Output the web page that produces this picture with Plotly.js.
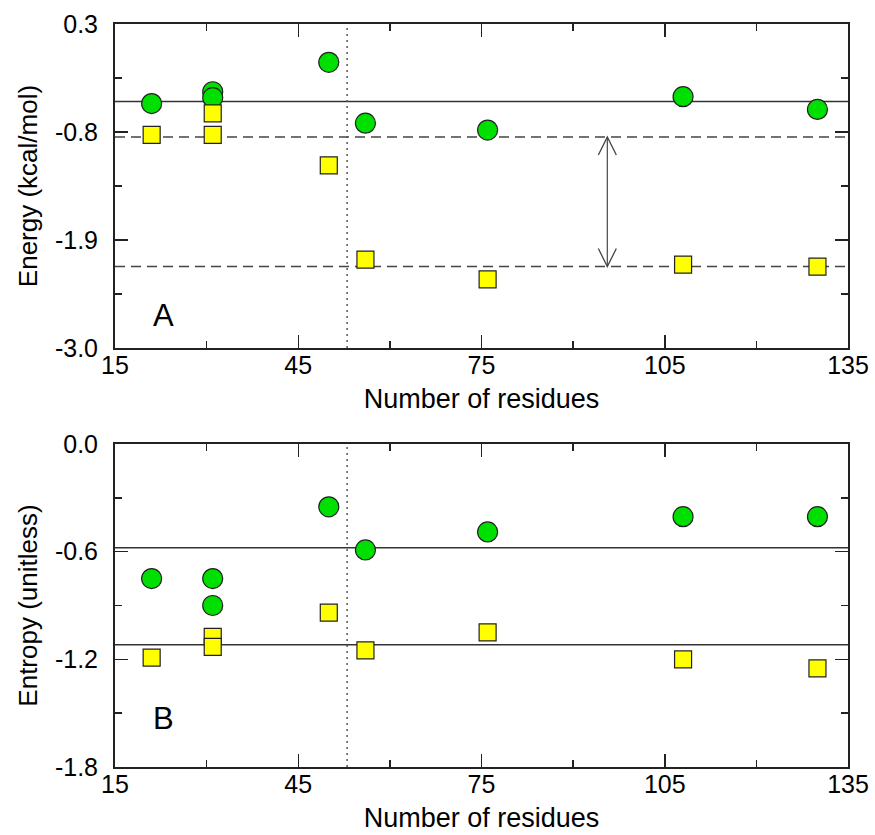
<!DOCTYPE html>
<html><head><meta charset="utf-8">
<script src="https://cdn.plot.ly/plotly-3.0.1.min.js"></script>
<style>html,body{margin:0;padding:0;background:#fff}#chart{width:875px;height:835px}</style>
</head><body><div id="chart"></div>
<script>
// ---- data ----
const residues = [21, 31, 31, 50, 56, 76, 108, 130];
const energyCircles = [-0.51, -0.39, -0.45, -0.09, -0.71, -0.78, -0.44, -0.57];
const energySquares = [-0.83, -0.61, -0.83, -1.14, -2.10, -2.30, -2.15, -2.17];
const entropyCircles = [-0.75, -0.75, -0.90, -0.35, -0.59, -0.49, -0.405, -0.405];
const entropySquares = [-1.19, -1.075, -1.13, -0.94, -1.15, -1.05, -1.20, -1.25];
const energySolidLines = [-0.49];
const energyDashedLines = [-0.85, -2.17];
const entropySolidLines = [-0.578, -1.118];
const cutoffResidues = [53];
const arrowResidue = 95.6;
const xTickVals = [15, 45, 75, 105, 135];
const xTickText = ['15', '45', '75', '105', '135'];
const xMinorTicks = [30, 60, 90, 120];
const energyTickVals = [0.3, -0.8, -1.9, -3.0];
const energyTickText = ['0.3', '-0.8', '-1.9', '-3.0'];
const energyMinorTicks = [-0.25, -1.35, -2.45];
const entropyTickVals = [0.0, -0.6, -1.2, -1.8];
const entropyTickText = ['0.0', '-0.6', '-1.2', '-1.8'];
const entropyMinorTicks = [-0.3, -0.9, -1.5];
const panelLabels = ['A', 'B'];
const panelLabelPos = [[23, -2.67], [23, -1.53]];

// ---- style ----
const FONT = 'Liberation Sans, Arial, Helvetica, sans-serif';
const green = '#00e000', yellow = '#ffff00', edge = '#222';
function circ(y, xa, ya) {
  return {x: residues, y: y, xaxis: xa, yaxis: ya, type: 'scatter', mode: 'markers',
    marker: {symbol: 'circle', size: 20, color: green, line: {color: edge, width: 1.2}}, hoverinfo: 'skip'};
}
function sq(y, xa, ya) {
  return {x: residues, y: y, xaxis: xa, yaxis: ya, type: 'scatter', mode: 'markers',
    marker: {symbol: 'square', size: 17, color: yellow, line: {color: edge, width: 1.2}}, hoverinfo: 'skip'};
}
const data = [
  circ(energyCircles, 'x', 'y'), sq(energySquares, 'x', 'y'),
  circ(entropyCircles, 'x2', 'y2'), sq(entropySquares, 'x2', 'y2')
];

function xaxis(anchor) {
  return {anchor: anchor, domain: [0, 1], range: [15, 135], tickmode: 'array', tickvals: xTickVals, ticktext: xTickText,
    ticks: 'inside', ticklen: 13, tickwidth: 1.5, tickcolor: '#222', mirror: 'ticks', showline: true, linewidth: 2, linecolor: '#222',
    showgrid: false, zeroline: false, ticklabelstandoff: -6,
    minor: {tickmode: 'array', tickvals: xMinorTicks, ticks: 'inside', ticklen: 7, tickwidth: 1.5, tickcolor: '#222', showgrid: false},
    tickfont: {family: FONT, size: 25, color: '#000'},
    title: {text: 'Number of residues', font: {family: FONT, size: 27, color: '#000'}, standoff: 11}};
}
function yaxis(anchor, dom, range, tv, tt, minor, title) {
  return {anchor: anchor, domain: dom, range: range, tickmode: 'array', tickvals: tv, ticktext: tt,
    ticks: 'inside', ticklen: 13, tickwidth: 1.5, tickcolor: '#222', mirror: 'ticks', showline: true, linewidth: 2, linecolor: '#222',
    showgrid: false, zeroline: false, ticklabelstandoff: 10,
    minor: {tickmode: 'array', tickvals: minor, ticks: 'inside', ticklen: 7, tickwidth: 1.5, tickcolor: '#222', showgrid: false},
    tickfont: {family: FONT, size: 25, color: '#000'},
    title: {text: title, font: {family: FONT, size: 26, color: '#000'}, standoff: 10}};
}

const shapes = [];
energySolidLines.forEach(v => shapes.push({type: 'line', xref: 'x domain', yref: 'y', x0: 0, x1: 1, y0: v, y1: v, layer: 'below', line: {color: '#333', width: 1.5}}));
energyDashedLines.forEach(v => shapes.push({type: 'line', xref: 'x domain', yref: 'y', x0: 0, x1: 1, y0: v, y1: v, layer: 'below', line: {color: '#444', width: 1.5, dash: '10px,6px'}}));
entropySolidLines.forEach(v => shapes.push({type: 'line', xref: 'x2 domain', yref: 'y2', x0: 0, x1: 1, y0: v, y1: v, layer: 'below', line: {color: '#333', width: 1.5}}));
cutoffResidues.forEach(v => {
  shapes.push({type: 'line', xref: 'x', yref: 'y domain', x0: v, x1: v, y0: 0, y1: 1, layer: 'below', line: {color: '#555', width: 1.5, dash: '2px,4px'}});
  shapes.push({type: 'line', xref: 'x2', yref: 'y2 domain', x0: v, x1: v, y0: 0, y1: 1, layer: 'below', line: {color: '#555', width: 1.5, dash: '2px,4px'}});
});
// double arrow between the two dashed levels
shapes.push({type: 'line', xref: 'x', yref: 'y', x0: arrowResidue, x1: arrowResidue, y0: energyDashedLines[0], y1: energyDashedLines[1],
  line: {color: '#555', width: 1.3}});
shapes.push({type: 'path', xref: 'x', yref: 'y', xsizemode: 'pixel', ysizemode: 'pixel', xanchor: arrowResidue, yanchor: energyDashedLines[0],
  path: 'M-9,-18L0,0L9,-18', line: {color: '#444', width: 1.3}});
shapes.push({type: 'path', xref: 'x', yref: 'y', xsizemode: 'pixel', ysizemode: 'pixel', xanchor: arrowResidue, yanchor: energyDashedLines[1],
  path: 'M-9,18L0,0L9,18', line: {color: '#444', width: 1.3}});

const annotations = [
  {x: panelLabelPos[0][0], y: panelLabelPos[0][1], xref: 'x', yref: 'y', text: panelLabels[0], showarrow: false,
   font: {family: FONT, size: 31, color: '#000'}},
  {x: panelLabelPos[1][0], y: panelLabelPos[1][1], xref: 'x2', yref: 'y2', text: panelLabels[1], showarrow: false,
   font: {family: FONT, size: 31, color: '#000'}}
];

const layout = {
  width: 875, height: 835, margin: {l: 115, r: 27, t: 24, b: 68},
  paper_bgcolor: '#fff', plot_bgcolor: '#fff', showlegend: false,
  xaxis: xaxis('y'), yaxis: yaxis('x', [0.5639, 1], [-3.0, 0.3], energyTickVals, energyTickText, energyMinorTicks, 'Energy (kcal/mol)'),
  xaxis2: xaxis('y2'), yaxis2: yaxis('x2', [0, 0.4347], [-1.8, 0.0], entropyTickVals, entropyTickText, entropyMinorTicks, 'Entropy (unitless)'),
  shapes: shapes, annotations: annotations
};
Plotly.newPlot('chart', data, layout, {displayModeBar: false, staticPlot: true});
</script></body></html>
